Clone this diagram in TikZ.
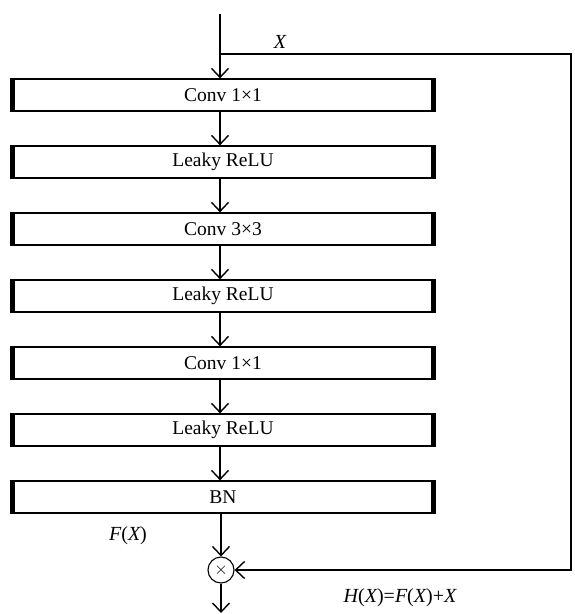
\documentclass[tikz,border=0pt]{standalone}
\usepackage{fontspec}
\setmainfont{Liberation Serif}
\usetikzlibrary{arrows.meta}
\begin{document}
\begin{tikzpicture}[x=1pt,y=-1pt,
  layer/.style={draw, line width=1.3pt, minimum width=424pt, minimum height=32pt, inner sep=0pt, font=\fontsize{19.5}{22}\selectfont},
  sidebar/.style={line width=4.5pt},
  arr/.style={line width=1.4pt, -{Straight Barb[length=9pt,width=17pt,line width=1.4pt]}},
  lbl/.style={font=\fontsize{20}{22}\selectfont\itshape},
  sumnode/.style={draw, circle, line width=1.1pt, minimum size=26pt, inner sep=0pt, font=\fontsize{17}{18}\selectfont}]
\useasboundingbox (0,0) rectangle (574,614);
\node[layer] (b1) at (223,95) {Conv 1×1};
\node[layer] (b2) at (223,162) {Leaky ReLU};
\node[layer] (b3) at (223,229) {Conv 3×3};
\node[layer] (b4) at (223,296) {Leaky ReLU};
\node[layer] (b5) at (223,363) {Conv 1×1};
\node[layer] (b6) at (223,430) {Leaky ReLU};
\node[layer] (b7) at (223,497) {BN};
\foreach \n in {b1,b2,b3,b4,b5,b6,b7}{
  \draw[sidebar] ([xshift=2pt]\n.north west) -- ([xshift=2pt]\n.south west);
  \draw[sidebar] ([xshift=-2pt]\n.north east) -- ([xshift=-2pt]\n.south east);
}
\coordinate (top) at (220,14);
\coordinate (split) at (220,54);
\coordinate (c1) at (571,54);
\coordinate (c2) at (571,570);
\node[sumnode] (sum) at (221,570) {$\times$};
\coordinate (out) at (221,613);
\draw[arr] (top) -- (b1.north -| top);
\draw[arr] (b1.south -| top) -- (b2.north -| top);
\draw[arr] (b2.south -| top) -- (b3.north -| top);
\draw[arr] (b3.south -| top) -- (b4.north -| top);
\draw[arr] (b4.south -| top) -- (b5.north -| top);
\draw[arr] (b5.south -| top) -- (b6.north -| top);
\draw[arr] (b6.south -| top) -- (b7.north -| top);
\draw[arr] (b7.south -| sum) -- (sum.north);
\draw[arr] (sum.south) -- (out);
\draw[arr] (split) -- (c1) -- (c2) -- (sum.east);
\node[lbl] (lx) at (280,42) {X};
\node[lbl] (lf) at (128,536) {F\upshape(\itshape X\upshape)};
\node[lbl] (lh) at (400,598) {H\upshape(\itshape X\upshape)=\itshape F\upshape(\itshape X\upshape)+\itshape X};
\end{tikzpicture}
\end{document}
